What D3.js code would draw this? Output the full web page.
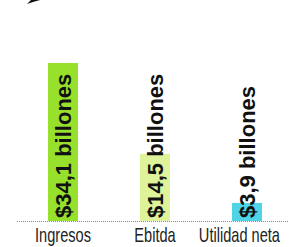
<!DOCTYPE html>
<html>
<head>
<meta charset="utf-8">
<script src="https://cdn.jsdelivr.net/npm/d3@7"></script>
<style>
  body { margin: 0; background: #fff; }
  svg { display: block; }
</style>
</head>
<body>
<div id="chart"></div>
<script>
// datos
var categorias = ["Ingresos", "Ebitda", "Utilidad neta"];
var valores = [34.1, 14.5, 3.9];
var etiquetas = ["$34,1 billones", "$14,5 billones", "$3,9 billones"];
var colores = ["#97e02c", "#dff39a", "#4fd3e6"];

const width = 289, height = 247;
const svg = d3.select("#chart").append("svg")
    .attr("width", width).attr("height", height);

const x = d3.scaleBand()
    .domain(categorias)
    .range([17, 293])
    .paddingInner(0.674)
    .paddingOuter(0.337);

const y = d3.scaleLinear()
    .domain([0, 34.1])
    .range([221, 63]);

// trocito de flecha arriba a la izquierda
svg.append("path")
    .attr("d", "M27,4 L31,0 L40,0 L33,2 Z")
    .attr("fill", "#111");

// barras
svg.selectAll(".bar")
    .data(valores)
    .enter().append("rect")
    .attr("class", "bar")
    .attr("x", (d, i) => x(categorias[i]))
    .attr("y", d => y(d))
    .attr("width", x.bandwidth())
    .attr("height", d => y(0) - y(d))
    .attr("fill", (d, i) => colores[i]);

// linea base punteada
svg.append("line")
    .attr("x1", 17).attr("x2", width)
    .attr("y1", y(0) + 0.5).attr("y2", y(0) + 0.5)
    .attr("stroke", "#888")
    .attr("stroke-width", 1)
    .attr("stroke-dasharray", "1,1");

// etiquetas de valor verticales
svg.selectAll(".val")
    .data(etiquetas)
    .enter().append("text")
    .attr("class", "val")
    .attr("transform", (d, i) => {
        var cx = x(categorias[i]) + x.bandwidth() / 2;
        return `translate(${cx},${y(0) - 3}) rotate(-90)`;
    })
    .attr("dominant-baseline", "central")
    .attr("font-family", "Liberation Sans, Arial, sans-serif")
    .attr("font-weight", "bold")
    .attr("font-size", 22)
    .attr("fill", "#111")
    .text(d => d);

// categorias (letra angosta: se comprime en x)
var sx = 0.73;
svg.selectAll(".cat")
    .data(categorias)
    .enter().append("text")
    .attr("class", "cat")
    .attr("text-anchor", "middle")
    .attr("font-family", "Liberation Sans, Arial, sans-serif")
    .attr("font-size", 20)
    .attr("fill", "#222")
    .text(d => d)
    .attr("transform", function(d) {
        var cx = x(d) + x.bandwidth() / 2;
        var half = this.getComputedTextLength() * sx / 2;
        cx = Math.min(cx, width - 9 - half); // que no se salga por la derecha
        return `translate(${cx},241.5) scale(${sx},1)`;
    });
</script>
</body>
</html>
